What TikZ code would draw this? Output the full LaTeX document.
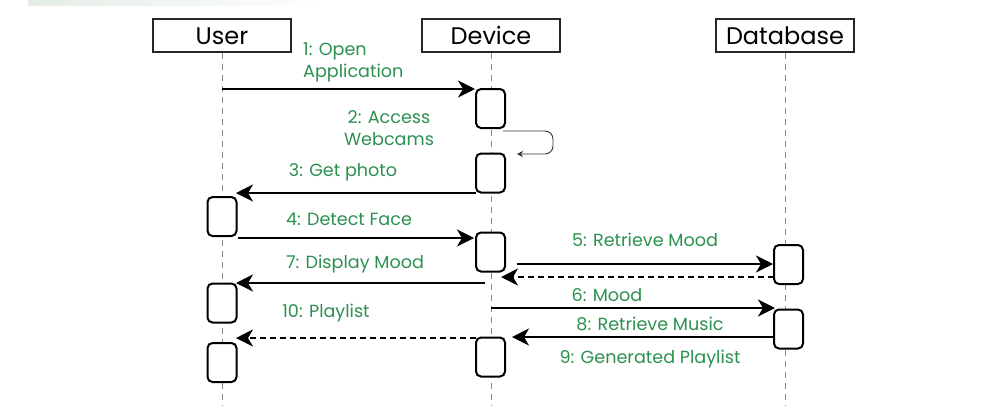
\documentclass[tikz,border=0pt]{standalone}
\usepackage{fontspec}
\setmainfont{Poppins}
\usetikzlibrary{arrows.meta}
\definecolor{lblgreen}{HTML}{2B9050}
\definecolor{lifegray}{HTML}{8A8A8A}
\definecolor{bandgreen}{HTML}{E2EDE5}
\tikzset{
  actor/.style={draw=black!85, line width=1.2pt, minimum width=138pt, minimum height=33pt, inner sep=0pt, text height=21pt, text depth=4pt, font=\fontsize{24}{26}\selectfont},
  life/.style={draw=lifegray, line width=0.9pt, dash pattern=on 6pt off 5pt},
  act/.style={draw=black, line width=2pt, rounded corners=5pt, minimum width=29pt, minimum height=39pt, inner sep=0pt, fill=white},
  msg/.style={draw=black, line width=2pt, -{Stealth[length=17pt,width=17pt,inset=5pt]}},
  ret/.style={msg, dash pattern=on 6pt off 4pt},
  selfmsg/.style={draw=black!80, line width=0.9pt, rounded corners=8pt, -{Stealth[length=6pt,width=6pt]}},
  lbl/.style={text=lblgreen, font=\fontsize{17.6}{22}\selectfont, inner sep=0pt}
}
\begin{document}
\begin{tikzpicture}[x=1pt,y=-1pt]
\useasboundingbox (0,0) rectangle (1000,416);
\fill[left color=bandgreen, right color=white] (28,0) rectangle (330,5);
% actors
\node[actor] (user) at (222,35.5) {User};
\node[actor] (device) at (491,35.5) {Device};
\node[actor] (db) at (785,35.5) {Database};
% lifelines
\coordinate (uend) at (222,406);
\coordinate (dend) at (491,406);
\coordinate (bend) at (785,406);
\draw[life] (user.south) -- (uend);
\draw[life] (device.south) -- (dend);
\draw[life] (db.south) -- (bend);
% activations
\node[act] (d1) at (490.5,108.5) {};
\node[act] (d2) at (490.5,173) {};
\node[act] (d3) at (490.5,252) {};
\node[act] (d4) at (490.5,357) {};
\node[act] (u1) at (222,216.5) {};
\node[act] (u2) at (222,303) {};
\node[act] (u3) at (222,362.5) {};
\node[act] (b1) at (788.5,264.5) {};
\node[act] (b2) at (788.5,329) {};
% message end points
\coordinate (m1s) at (222,89);
\coordinate (m1e) at (475,89);
\coordinate (m2s) at (503,131);
\coordinate (m2c) at (553,131);
\coordinate (m2d) at (553,154);
\coordinate (m2e) at (517,154);
\coordinate (m3s) at (476,193);
\coordinate (m3e) at (236,193);
\coordinate (m4s) at (238,238);
\coordinate (m4e) at (474,238);
\coordinate (m5s) at (517,264);
\coordinate (m5e) at (773,264);
\coordinate (r5s) at (774,277);
\coordinate (r5e) at (501,277);
\coordinate (m7s) at (485,283);
\coordinate (m7e) at (236,283);
\coordinate (m6s) at (491,308);
\coordinate (m6e) at (775,308);
\coordinate (m8s) at (774,337);
\coordinate (m8e) at (512,337);
\coordinate (m10s) at (476,338);
\coordinate (m10e) at (236,338);
% messages
\draw[msg] (m1s) -- (m1e);
\draw[selfmsg] (m2s) -- (m2c) -- (m2d) -- (m2e);
\draw[msg] (m3s) -- (m3e);
\draw[msg] (m4s) -- (m4e);
\draw[msg] (m5s) -- (m5e);
\draw[ret] (r5s) -- (r5e);
\draw[msg] (m7s) -- (m7e);
\draw[msg] (m6s) -- (m6e);
\draw[msg] (m8s) -- (m8e);
\draw[ret] (m10s) -- (m10e);
% labels
\node[lbl, anchor=west, align=left] (l1) at (303,62) {1: Open\\Application};
\node[lbl, align=center] (l2) at (389,128) {2: Access\\Webcams};
\node[lbl] (l3) at (343,172) {3: Get photo};
\node[lbl] (l4) at (349,219) {4: Detect Face};
\node[lbl] (l5) at (645,240) {5: Retrieve Mood};
\node[lbl] (l7) at (355,264) {7: Display Mood};
\node[lbl] (l6) at (607,295) {6: Mood};
\node[lbl] (l10) at (326,313) {10: Playlist};
\node[lbl] (l8) at (650,324) {8: Retrieve Music};
\node[lbl] (l9) at (650,359) {9: Generated Playlist};
\end{tikzpicture}
\end{document}
